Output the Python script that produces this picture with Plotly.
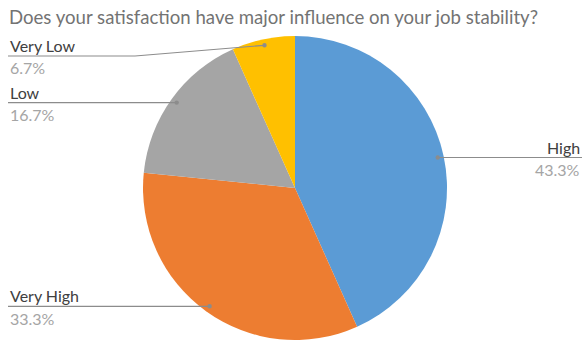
import math
import plotly.graph_objects as go

# Survey answers, in drawing order (clockwise from 12 o'clock)
categories = ["High", "Very High", "Low", "Very Low"]
shares = [43.3, 33.3, 16.7, 6.7]
slice_colors = ["#5B9BD5", "#ED7D31", "#A5A5A5", "#FFC000"]
title_text = "Does your satisfaction have major influence on your job stability?"

W, H = 584, 340
PIE_CX, PIE_R = 295, 152          # pie centre x and radius, px
PIE_CY = H - PIE_R                # pie sits on the bottom edge
LEFT_X, RIGHT_X = 8, 582          # label column edges, px
TITLE_BOTTOM = 56                 # labels never rise above this line, px
FONT = "Lato, 'Open Sans', sans-serif"


def px(x):
    return x / W


def py(y):
    return 1 - y / H


fig = go.Figure(
    go.Pie(
        labels=categories,
        values=shares,
        sort=False,
        direction="clockwise",
        rotation=0,
        marker=dict(colors=slice_colors, line=dict(width=0)),
        textinfo="none",
        hoverinfo="label+percent",
        showlegend=False,
        domain=dict(
            x=[px(PIE_CX - PIE_R), px(PIE_CX + PIE_R)],
            y=[0, 2 * PIE_R / H],
        ),
    )
)

shapes = []
annotations = [
    dict(
        text=title_text,
        x=px(LEFT_X - 1), y=py(17), xref="paper", yref="paper",
        xanchor="left", yanchor="middle", showarrow=False,
        font=dict(family=FONT, size=18.6, color="#737373"),
    )
]

# Leader lines and two-line labels placed from each slice's mid angle
total = sum(shares)
cum = 0.0
for name, val in zip(categories, shares):
    mid = (cum + val / 2) / total * 2 * math.pi
    cum += val
    dot_x = PIE_CX + 0.96 * PIE_R * math.sin(mid)
    dot_y = PIE_CY - 0.96 * PIE_R * math.cos(mid)
    right = math.sin(mid) > 0
    line_y = max(dot_y, TITLE_BOTTOM)
    edge_x = RIGHT_X if right else LEFT_X
    if abs(line_y - dot_y) < 3:
        path = f"M {px(edge_x)},{py(dot_y)} L {px(dot_x)},{py(dot_y)}"
        line_y = dot_y
    else:
        knee_x = 135
        path = (f"M {px(edge_x)},{py(line_y)} L {px(knee_x)},{py(line_y)} "
                f"L {px(dot_x)},{py(dot_y)}")
    shapes.append(dict(type="path", path=path, xref="paper", yref="paper",
                       line=dict(color="#8C8C8C", width=1.2)))
    rdot = 2.2
    shapes.append(dict(type="circle", xref="paper", yref="paper",
                       x0=px(dot_x - rdot), x1=px(dot_x + rdot),
                       y0=py(dot_y - rdot), y1=py(dot_y + rdot),
                       fillcolor="#8C8C8C", line=dict(width=0)))
    anchor = "right" if right else "left"
    annotations.append(dict(
        text=name, x=px(edge_x), y=py(line_y + 1), xref="paper", yref="paper",
        xanchor=anchor, yanchor="bottom", showarrow=False,
        font=dict(family=FONT, size=16, color="#404040"),
    ))
    annotations.append(dict(
        text=f"{val:.1f}%", x=px(edge_x), y=py(line_y + 0.5), xref="paper",
        yref="paper", xanchor=anchor, yanchor="top", showarrow=False,
        font=dict(family=FONT, size=16, color="#A5A5A5"),
    ))

fig.update_layout(
    width=W, height=H,
    margin=dict(l=0, r=0, t=0, b=0),
    paper_bgcolor="white",
    plot_bgcolor="white",
    shapes=shapes,
    annotations=annotations,
)

fig.write_html("out.html")
